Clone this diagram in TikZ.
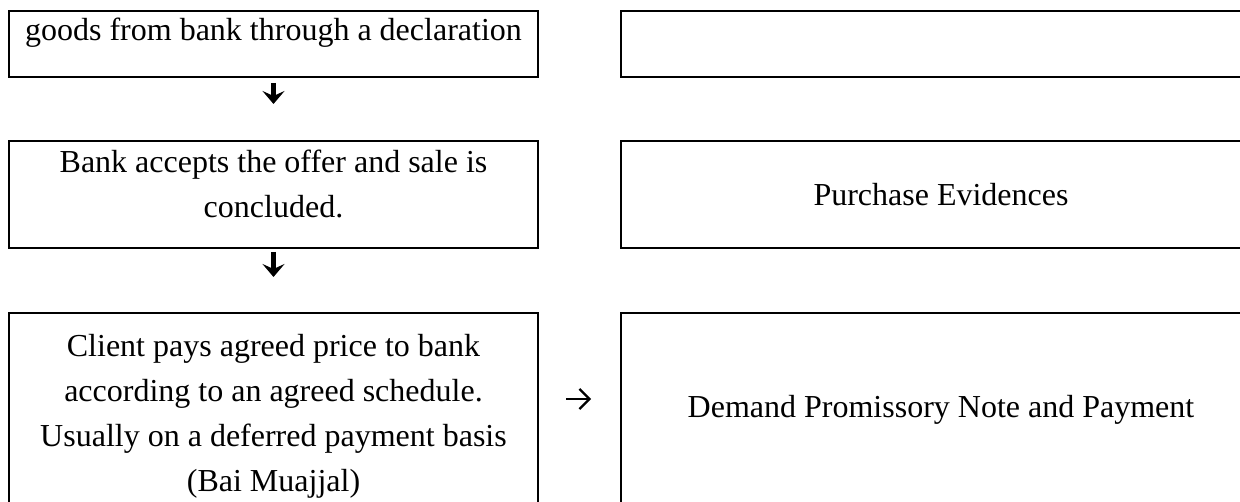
\documentclass[tikz,border=0pt]{standalone}
\usepackage{fontspec}
\setmainfont{Liberation Serif}
\usetikzlibrary{arrows.meta}

\tikzset{
  stepbox/.style={draw, line width=2pt, inner sep=0pt, align=center, anchor=north west,
    font=\fontsize{32}{45}\selectfont},
  leftbox/.style={stepbox, minimum width=529pt},
  rightbox/.style={stepbox, minimum width=640pt},
  downarrow/.style={line width=5pt, -{Stealth[length=13pt,width=22pt,inset=5pt]}},
  sidearrow/.style={line width=2.2pt, -{Straight Barb[length=10pt,width=20pt]}}
}

\begin{document}
\begin{tikzpicture}[x=1pt,y=-1pt]
		%%%%% START %%%%%
		\fill[white] (0,0) rectangle (1240,502);
		\clip (0,0) rectangle (1240,502);
		
		% left column
		\node[leftbox, text height=30pt, text depth=36pt] (bone) at (8,10) {goods from bank through a declaration};
		\node[leftbox, text height=77pt, text depth=30pt] (btwo) at (8,140) {Bank accepts the offer and sale is\\concluded.};
		\node[leftbox, text height=178pt, text depth=22pt] (bthree) at (8,312) {Client pays agreed price to bank\\according to an agreed schedule.\\Usually on a deferred payment basis\\(Bai Muajjal)};
		
		% right column
		\node[rightbox, text height=30pt, text depth=36pt] (rone) at (620,10) {};
		\node[rightbox, text height=65pt, text depth=42pt] (rtwo) at (620,140) {Purchase Evidences};
		\node[rightbox, text height=105pt, text depth=95pt] (rthree) at (620,312) {Demand Promissory Note and Payment};
		
		% arrows
		\draw[downarrow, shorten <=5pt, shorten >=36pt] (bone) -- (btwo);
		\draw[downarrow, shorten <=3pt, shorten >=35pt] (btwo) -- (bthree);
		\draw[sidearrow, shorten <=27pt, shorten >=29pt] ([yshift=14pt]bthree.east) -- ([yshift=14pt]rthree.west);
		
		%%%%% END %%%%%
\end{tikzpicture}
\end{document}
